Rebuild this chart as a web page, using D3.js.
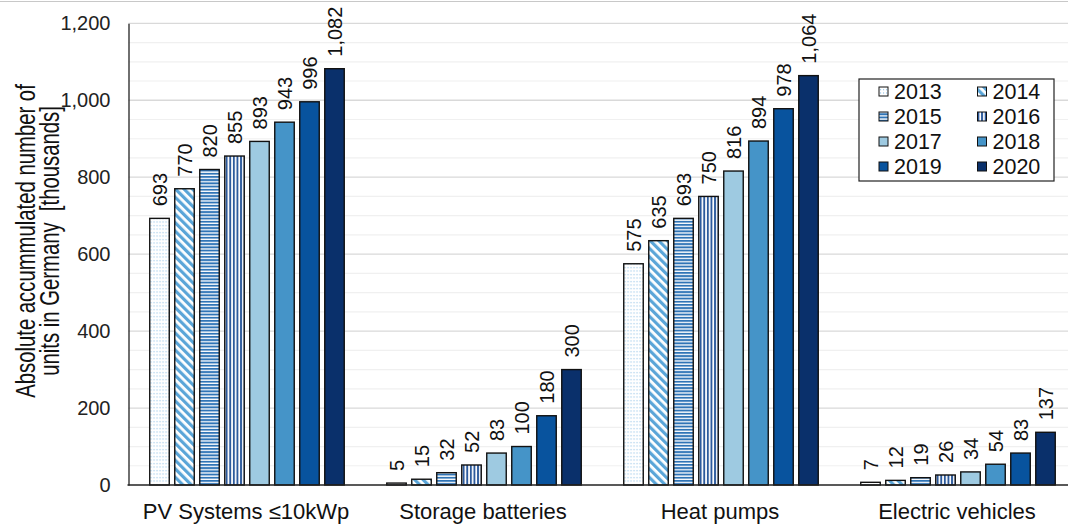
<!DOCTYPE html>
<html>
<head>
<meta charset="utf-8">
<script src="https://cdn.jsdelivr.net/npm/d3@7"></script>
<style>
  html, body { margin: 0; padding: 0; background: #fff; }
  svg { display: block; font-family: "Liberation Sans", Arial, sans-serif; }
  .ytitle { white-space: pre; }
</style>
</head>
<body>
<svg id="chart" width="1068" height="527"></svg>
<script>
// Accumulated units installed in Germany, thousands
const categories = ["PV Systems \u226410kWp", "Storage batteries", "Heat pumps", "Electric vehicles"];
const years = ["2013", "2014", "2015", "2016", "2017", "2018", "2019", "2020"];
const pvSystems = [693, 770, 820, 855, 893, 943, 996, 1082];
const storageBatteries = [5, 15, 32, 52, 83, 100, 180, 300];
const heatPumps = [575, 635, 693, 750, 816, 894, 978, 1064];
const electricVehicles = [7, 12, 19, 26, 34, 54, 83, 137];
const yTicks = [0, 200, 400, 600, 800, 1000, 1200];
const yTitle = ["Absolute accummulated number of", "units in Germany  [thousands]"];

const seriesByCategory = [pvSystems, storageBatteries, heatPumps, electricVehicles];
const rows = categories.map((c, i) => ({
  category: c,
  values: years.map((y, j) => ({ year: y, value: seriesByCategory[i][j] }))
}));

const svg = d3.select("#chart");
const W = 1068, H = 527;
const plotLeft = 128.5, plotRight = 1076.5, plotTop = 23.3, plotBottom = 485;

// fills per year: patterned for the early years, solid blues later
const defs = svg.append("defs");
const pDots = defs.append("pattern").attr("id", "p2013").attr("patternUnits", "userSpaceOnUse")
  .attr("width", 3).attr("height", 3.5);
pDots.append("rect").attr("width", 3).attr("height", 3.5).attr("fill", "#ffffff");
pDots.append("rect").attr("x", 1).attr("y", 1).attr("width", 1.1).attr("height", 1.1).attr("fill", "#8cc0e6");

const pDiag = defs.append("pattern").attr("id", "p2014").attr("patternUnits", "userSpaceOnUse")
  .attr("width", 6).attr("height", 6).attr("patternTransform", "rotate(-45)");
pDiag.append("rect").attr("width", 6).attr("height", 6).attr("fill", "#ffffff");
pDiag.append("rect").attr("width", 3.2).attr("height", 6).attr("fill", "#5aa5d8");

const pHor = defs.append("pattern").attr("id", "p2015").attr("patternUnits", "userSpaceOnUse")
  .attr("width", 4).attr("height", 3.2);
pHor.append("rect").attr("width", 4).attr("height", 3.2).attr("fill", "#ffffff");
pHor.append("rect").attr("width", 4).attr("height", 1.9).attr("fill", "#2f74b6");

const pVer = defs.append("pattern").attr("id", "p2016").attr("patternUnits", "userSpaceOnUse")
  .attr("width", 3.6).attr("height", 4);
pVer.append("rect").attr("width", 3.6).attr("height", 4).attr("fill", "#ffffff");
pVer.append("rect").attr("width", 1.9).attr("height", 4).attr("fill", "#2c5a9c");

const fills = {
  "2013": "url(#p2013)", "2014": "url(#p2014)", "2015": "url(#p2015)", "2016": "url(#p2016)",
  "2017": "#9ecae1", "2018": "#4594c8", "2019": "#08539e", "2020": "#0a306b"
};

// scales
const y = d3.scaleLinear().domain([0, 1200]).range([plotBottom, plotTop]);
const x0 = d3.scaleBand().domain(categories).range([plotLeft, plotRight]);
const x1 = d3.scaleBand().domain(years).range([21.25, x0.bandwidth() - 21.25]).paddingInner(0.22);

// outer frame line
svg.append("line").attr("x1", 0).attr("x2", W).attr("y1", 1.5).attr("y2", 1.5)
  .attr("stroke", "#c8c8c8").attr("stroke-width", 1.2);

// gridlines: minor every 50, major every 200
const minor = d3.range(50, 1201, 50).filter(v => v % 200 !== 0);
svg.append("g").selectAll("line").data(minor).join("line")
  .attr("x1", plotLeft).attr("x2", W).attr("y1", d => y(d)).attr("y2", d => y(d))
  .attr("stroke", "#f0f0f0").attr("stroke-width", 1.2);
svg.append("g").selectAll("line").data(yTicks.filter(v => v > 0)).join("line")
  .attr("x1", plotLeft).attr("x2", W).attr("y1", d => y(d)).attr("y2", d => y(d))
  .attr("stroke", "#d9d9d9").attr("stroke-width", 1.3);

// y axis
const yAxis = svg.append("g").attr("transform", `translate(${plotLeft},0)`)
  .call(d3.axisLeft(y).tickValues(yTicks).tickFormat(d3.format(",")).tickSize(0).tickPadding(18));
yAxis.select(".domain").attr("stroke", "#222").attr("stroke-width", 1.3);
yAxis.selectAll("text").attr("font-size", 20).attr("fill", "#222").attr("font-family", "Liberation Sans, Arial, sans-serif");

// bars
const groups = svg.append("g").selectAll("g").data(rows).join("g")
  .attr("transform", d => `translate(${x0(d.category)},0)`);
groups.selectAll("rect").data(d => d.values).join("rect")
  .attr("x", d => x1(d.year))
  .attr("y", d => y(d.value))
  .attr("width", x1.bandwidth())
  .attr("height", d => y(0) - y(d.value))
  .attr("fill", d => fills[d.year])
  .attr("stroke", "#111").attr("stroke-width", 1.4);

// value labels, rotated
groups.selectAll("text.val").data(d => d.values).join("text")
  .attr("class", "val")
  .attr("transform", d => `translate(${x1(d.year) + x1.bandwidth() / 2},${y(d.value) - 12}) rotate(-90)`)
  .attr("dy", "0.36em")
  .attr("font-size", 20).attr("fill", "#111")
  .text(d => d3.format(",")(d.value));

// x axis baseline
svg.append("line").attr("x1", plotLeft - 1).attr("x2", W).attr("y1", plotBottom).attr("y2", plotBottom)
  .attr("stroke", "#222").attr("stroke-width", 1.4);

// category labels
svg.append("g").selectAll("text").data(categories).join("text")
  .attr("x", d => x0(d) + x0.bandwidth() / 2 - 1)
  .attr("y", 519)
  .attr("text-anchor", "middle")
  .attr("font-size", 22).attr("fill", "#111")
  .text(d => d);

// y axis title (two lines, rotated, glyphs drawn tall and narrow)
const titleStretch = 1.35;
const yt = svg.append("text").attr("class", "ytitle")
  .attr("transform", `translate(0,241) rotate(-90) scale(1,${titleStretch})`)
  .attr("text-anchor", "middle").attr("font-size", 20.3).attr("fill", "#111");
yt.selectAll("tspan").data(yTitle).join("tspan")
  .attr("x", 0).attr("y", (d, i) => (35.5 + i * 24) / titleStretch)
  .text(d => d);

// legend
const lg = svg.append("g");
lg.append("rect").attr("x", 859).attr("y", 79).attr("width", 195).attr("height", 102)
  .attr("fill", "#fff").attr("stroke", "#222").attr("stroke-width", 1.2);
const items = lg.selectAll("g").data(years).join("g")
  .attr("transform", (d, i) => `translate(${i % 2 === 0 ? 879 : 977.5},${91.5 + Math.floor(i / 2) * 25})`);
items.append("rect").attr("x", 0).attr("y", -4.5).attr("width", 9).attr("height", 9)
  .attr("fill", d => fills[d]).attr("stroke", "#111").attr("stroke-width", 1);
items.append("text").attr("x", 15).attr("y", 0).attr("dy", "0.36em")
  .attr("font-size", 21.5).attr("fill", "#111").text(d => d);
</script>
</body>
</html>
